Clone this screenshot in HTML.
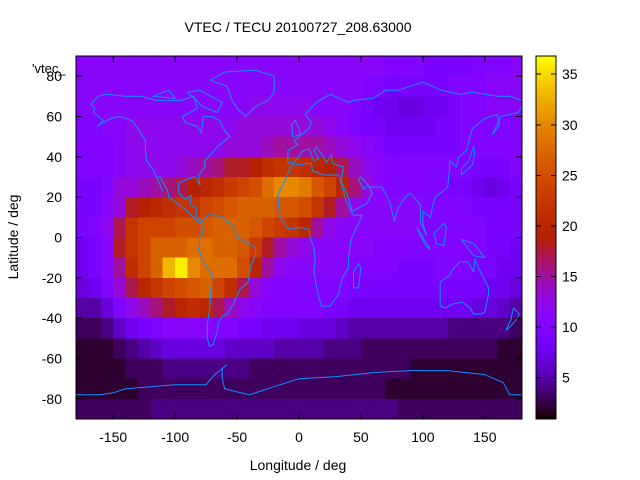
<!DOCTYPE html>
<html><head><meta charset="utf-8"><style>
body{margin:0;background:#fff;}
svg{display:block;font-family:"Liberation Sans",sans-serif;}
</style></head><body>
<svg id="chart" width="640" height="480" viewBox="0 0 640 480">
<text x="298" y="32" text-anchor="middle" font-size="14">VTEC / TECU 20100727_208.63000</text>
<g id="cells" shape-rendering="crispEdges"></g>
<g id="coast" fill="none" stroke="#1090ff" stroke-width="1"></g>
<rect x="76" y="56" width="446" height="363" fill="none" stroke="#000"/>
<g id="xt"></g>
<g id="yt"></g>
<text x="298" y="470" text-anchor="middle" font-size="14">Longitude / deg</text>
<text transform="translate(18,237) rotate(-90)" text-anchor="middle" font-size="14">Latitude / deg</text>
<text x="32" y="73" font-size="13">'vtec_</text>
<g id="cb" shape-rendering="crispEdges"></g>
</svg>
<script>
const lons=[-175,-165,-155,-145,-135,-125,-115,-105,-95,-85,-75,-65,-55,-45,-35,-25,-15,-5,5,15,25,35,45,55,65,75,85,95,105,115,125,135,145,155,165,175];
const lats=[85,75,65,55,45,35,25,15,5,-5,-15,-25,-35,-45,-55,-65,-75,-85];
const vtec=[
[11,11,11,11,11,11,11,11,11,11,11,11,11,11,11,11,11,11,11,11,11,11,11,11,11,10,10,10,9,9,9,9,10,10,10,11],
[11,11,11,11,11,11,11,11,11,11,11,11,11,11,11,11,11,11,11,11,11,11,11,10,10,9,9,9,9,9,10,10,10,11,11,11],
[11,11,11,11,11,11,11,11,11,11,11,11,11,11,12,12,12,12,12,11,11,11,10,9,8,8,7,7,8,8,9,10,10,11,11,11],
[10,10,11,11,12,12,12,12,12,12,12,12,12,13,13,13,13,13,13,13,12,11,10,9,9,8,8,8,8,9,9,10,10,10,10,10],
[10,10,10,11,12,12,12,12,12,12,12,12,13,13,13,14,15,15,15,15,14,13,12,11,10,9,9,9,9,9,9,10,10,10,10,10],
[10,10,10,11,12,12,12,12,13,14,15,16,18,18,19,21,22,22,21,20,19,17,14,12,11,10,10,10,10,10,10,10,9,9,9,10],
[9,9,10,13,13,14,15,16,17,19,20,21,23,24,25,28,30,30,29,26,24,20,16,13,11,10,10,10,10,10,9,9,8,7,8,9],
[9,9,11,13,18,19,20,21,22,22,24,25,26,27,27,27,26,26,25,22,18,15,12,11,11,11,11,11,10,10,10,10,9,9,9,9],
[9,10,12,17,22,24,24,24,25,25,26,27,27,27,26,24,23,22,20,15,12,11,11,11,11,11,11,11,10,10,10,10,10,9,9,9],
[8,9,11,18,22,24,27,27,27,28,28,27,27,26,23,18,15,13,12,11,11,11,11,11,10,10,10,10,10,10,10,10,10,9,9,8],
[8,9,11,15,21,24,27,33,36,30,28,28,28,25,20,15,12,11,11,11,11,11,10,10,10,10,9,9,9,10,10,10,9,9,8,8],
[7,8,10,13,17,20,22,24,25,26,27,24,21,17,13,11,10,10,10,10,10,10,9,9,9,9,9,9,9,9,9,9,9,8,8,7],
[5,5,7,10,12,14,16,18,20,21,20,17,14,12,11,10,10,10,10,10,9,9,8,8,8,8,8,8,8,8,8,8,7,7,6,5],
[3,3,4,6,8,9,10,11,11,11,11,10,10,9,9,8,8,8,7,7,7,6,5,5,5,5,5,5,5,5,4,4,4,4,4,3],
[2,2,2,3,4,5,6,7,7,7,7,7,6,6,6,6,5,5,5,5,4,4,4,3,3,3,3,3,3,3,3,3,3,3,2,2],
[2,2,2,2,3,3,3,4,4,4,4,4,4,4,3,3,3,3,3,3,3,3,3,3,3,3,3,2,2,2,2,2,2,2,2,2],
[2,2,2,2,2,3,3,3,3,3,3,3,3,3,3,3,3,3,3,3,3,3,3,3,3,2,2,2,2,2,2,2,2,2,2,2],
[3,3,3,3,3,3,4,4,4,4,4,4,4,4,4,4,4,4,4,4,4,4,4,4,4,4,3,3,3,3,3,3,3,3,3,3]];
const xTicks=[-150,-100,-50,0,50,100,150];
const yTicks=[-80,-60,-40,-20,0,20,40,60,80];
const cbTicks=[5,10,15,20,25,30,35];
const cbMin=0.9, cbMax=36.8;
const NS='http://www.w3.org/2000/svg';
const X0=76,X1=522,Y0=56,Y1=419;
function sx(lon){return X0+(lon+180)/360*(X1-X0);}
function sy(lat){return Y0+(90-lat)/180*(Y1-Y0);}
function col(v){let t=Math.max(0,Math.min(1,(v-cbMin)/(cbMax-cbMin)));
 let r=Math.sqrt(t),g=t*t*t,b=Math.max(0,Math.sin(2*Math.PI*t));
 return 'rgb('+Math.round(r*255)+','+Math.round(g*255)+','+Math.round(b*255)+')';}
function mk(tag,attrs,parent){const e=document.createElementNS(NS,tag);for(const k in attrs)e.setAttribute(k,attrs[k]);parent.appendChild(e);return e;}
const cells=document.getElementById('cells');
lats.forEach((la,i)=>lons.forEach((lo,j)=>{
 const x=sx(lo-5),y=sy(la+5);
 const r=mk('rect',{x:x,y:y,width:sx(lo+5)-x+0.5,height:sy(la-5)-y+0.5,fill:col(vtec[i][j])},cells);
 
 
}));
const coasts=[
[[-168,66],[-162,70],[-156,71],[-140,70],[-128,70],[-115,68],[-95,68],[-85,70],[-82,64],[-94,60],[-92,57],[-82,55],[-79,52],[-77,60],[-70,60],[-64,58],[-60,53],[-56,50],[-66,45],[-70,42],[-76,38],[-76,35],[-81,31],[-80,26],[-82,28],[-84,30],[-90,29],[-97,27],[-97,22],[-92,19],[-87,21],[-88,16],[-83,15],[-83,10],[-78,8],[-80,7],[-85,10],[-92,14],[-105,20],[-106,23],[-112,30],[-115,30],[-110,23],[-115,30],[-118,34],[-123,38],[-124,44],[-124,48],[-130,54],[-135,58],[-145,60],[-152,59],[-158,57],[-163,55],[-158,58],[-162,60],[-166,62],[-165,64],[-168,66]],
[[-78,8],[-72,12],[-62,10],[-52,5],[-50,0],[-44,-2],[-35,-5],[-35,-9],[-39,-14],[-41,-22],[-48,-26],[-53,-33],[-58,-38],[-62,-39],[-65,-42],[-66,-47],[-68,-50],[-69,-53],[-72,-54],[-74,-50],[-74,-43],[-72,-35],[-71,-25],[-70,-18],[-76,-14],[-81,-6],[-80,0],[-78,2],[-77,8]],
[[-72,78],[-60,82],[-35,83],[-20,80],[-20,72],[-25,68],[-35,65],[-43,60],[-50,64],[-54,68],[-58,75],[-72,78]],
[[-80,73],[-62,67],[-66,62],[-78,65],[-90,72],[-80,73]],[[-118,70],[-105,73],[-100,69],[-118,70]],
[[-17,21],[-16,12],[-13,8],[-8,4],[0,5],[8,4],[9,0],[12,-5],[13,-12],[12,-17],[15,-27],[18,-34],[25,-34],[32,-28],[35,-20],[40,-15],[40,-10],[42,-1],[51,11],[44,11],[38,18],[34,27],[32,31],[20,31],[11,33],[10,37],[0,36],[-6,36],[-10,30],[-17,21]],
[[44,-25],[48,-25],[50,-15],[48,-13],[44,-17],[44,-25]],
[[-9,37],[-9,43],[-1,46],[-4,48],[2,51],[8,54],[10,57],[5,61],[14,67],[25,71],[40,67],[44,68],[60,69],[70,73],[80,73],[100,77],[115,73],[130,71],[140,72],[160,70],[170,70],[180,68]],
[[180,65],[177,62],[163,60],[156,51],[162,56],[160,61],[150,59],[140,54],[135,43],[129,40],[127,35],[122,38],[121,31],[120,25],[110,20],[108,16],[106,10],[100,13],[100,7],[103,1],[98,8],[98,16],[93,20],[90,22],[86,20],[80,15],[77,8],[73,18],[67,25],[57,25],[50,30],[48,29],[52,24],[56,26],[59,22],[55,17],[43,13],[39,21],[34,28],[36,35],[30,36],[27,37],[26,41],[22,37],[20,40],[14,45],[12,43],[16,39],[12,38],[8,44],[3,43],[-4,37],[-9,37]],
[[-5,50],[1,51],[0,54],[-3,58],[-6,56],[-5,50]],[[131,31],[140,36],[142,42],[141,45],[137,38],[131,34],[131,31]],
[[114,-22],[114,-34],[118,-35],[124,-33],[132,-32],[138,-35],[141,-38],[147,-38],[150,-37],[153,-28],[153,-25],[145,-15],[142,-11],[141,-17],[136,-12],[130,-12],[125,-15],[121,-19],[114,-22]],
[[173,-35],[178,-38],[175,-41],[171,-44],[167,-46],[171,-41],[173,-35]],
[[109,2],[117,7],[119,5],[117,-4],[111,-3],[109,2]],[[95,5],[106,-6],[102,-4],[95,5]],[[131,-1],[141,-3],[150,-10],[141,-9],[131,-1]],
[[-180,-78],[-160,-78],[-150,-77],[-140,-75],[-100,-73],[-75,-73],[-68,-68],[-58,-63],[-62,-65],[-62,-70],[-60,-75],[-40,-78],[-20,-74],[0,-70],[30,-69],[60,-67],[90,-66],[120,-66],[150,-68],[165,-72],[170,-78],[180,-78]]];
const cg=document.getElementById('coast');
coasts.forEach(c=>{const p=mk('polyline',{points:c.map(q=>sx(q[0]).toFixed(1)+','+sy(q[1]).toFixed(1)).join(' ')},cg);
 
 });
const xt=document.getElementById('xt');
xTicks.forEach(v=>{const x=sx(v);
 mk('line',{x1:x,y1:Y1,x2:x,y2:Y1-6,stroke:'#000'},xt);mk('line',{x1:x,y1:Y0,x2:x,y2:Y0+6,stroke:'#000'},xt);
 const t=mk('text',{x:x,y:442,'text-anchor':'middle','font-size':14},xt);t.textContent=v;
 
 });
const yt=document.getElementById('yt');
yTicks.forEach(v=>{const y=sy(v);
 mk('line',{x1:X0,y1:y,x2:X0+6,y2:y,stroke:'#000'},yt);mk('line',{x1:X1,y1:y,x2:X1-6,y2:y,stroke:'#000'},yt);
 const t=mk('text',{x:62,y:y+5,'text-anchor':'end','font-size':14},yt);t.textContent=v;
 
 });
const cb=document.getElementById('cb');
const CX=536,CW=20;
for(let py=Y0;py<Y1;py++){const v=cbMax-(py-Y0+0.5)/(Y1-Y0)*(cbMax-cbMin);mk('rect',{x:CX,y:py,width:CW,height:1,fill:col(v)},cb);}
mk('rect',{x:CX,y:Y0,width:CW,height:Y1-Y0,fill:'none',stroke:'#000'},cb);
function cy(v){return Y1-(v-cbMin)/(cbMax-cbMin)*(Y1-Y0);}
cbTicks.forEach(v=>{const y=cy(v);
 mk('line',{x1:CX,y1:y,x2:CX+5,y2:y,stroke:'#000'},cb);mk('line',{x1:CX+CW,y1:y,x2:CX+CW-5,y2:y,stroke:'#000'},cb);
 const t=mk('text',{x:562,y:y+5,'font-size':14},cb);t.textContent=v;
 
 });
</script>
</body></html>
